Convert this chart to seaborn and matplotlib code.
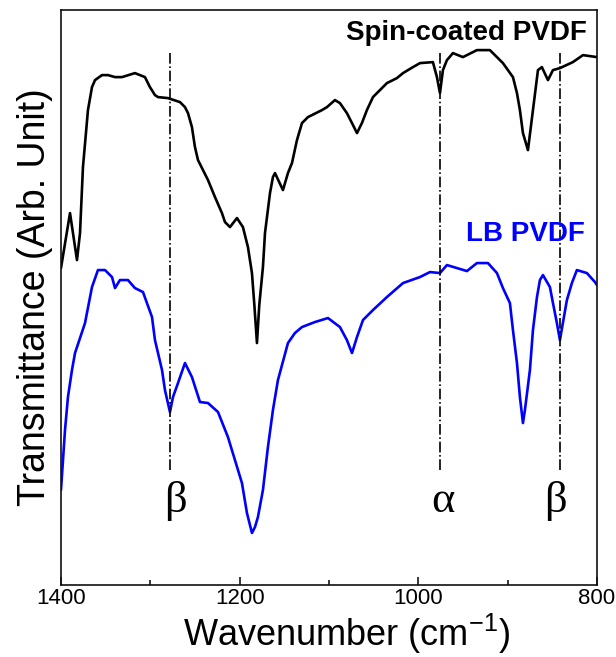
import numpy as np
import pandas as pd
import matplotlib
matplotlib.use("Agg")
import matplotlib.pyplot as plt
import seaborn as sns
from matplotlib.ticker import MultipleLocator

# ---- data ----
spin_wn = [1400, 1389.9, 1382.1, 1378.7, 1375.4, 1369.8, 1365.3, 1361.9, 1354.1, 1347.4,
           1339.5, 1331.7, 1317.2, 1306.0, 1300.4, 1294.8, 1291.4, 1280.2, 1266.8, 1261.2,
           1257.8, 1253.4, 1250.0, 1246.6, 1241.0, 1235.4, 1227.6, 1219.8, 1216.4, 1210.8,
           1203.0, 1196.3, 1190.7, 1186.2, 1183.5, 1180.6, 1178.0, 1173.9, 1171.6, 1166.0,
           1162.7, 1160.4, 1151.5, 1145.9, 1141.4, 1135.8, 1130.2, 1123.5, 1107.8, 1102.2,
           1093.3, 1087.7, 1079.9, 1074.2, 1068.6, 1063.1, 1057.5, 1050.7, 1035.1, 1023.9,
           1017.1, 1005.9, 998.1, 983.6, 979.1, 975.7, 972.4, 967.9, 961.2, 950.0,
           934.3, 919.8, 905.2, 894.0, 889.5, 886.2, 882.8, 877.2, 871.6, 866.0,
           861.6, 854.8, 849.2, 841.4, 826.9, 815.6, 800]
spin_t = [317, 372, 325, 352, 418, 475, 498, 505, 510, 510,
          508, 508, 512, 508, 498, 490, 488, 487, 483, 478,
          472, 458, 438, 425, 415, 405, 388, 372, 363, 358,
          367, 358, 338, 312, 280, 242, 280, 318, 352, 392,
          408, 412, 395, 412, 422, 445, 462, 468, 475, 478,
          485, 482, 472, 462, 452, 462, 475, 488, 502, 507,
          512, 518, 522, 523, 508, 492, 515, 525, 532, 528,
          535, 535, 522, 508, 492, 475, 452, 435, 475, 515,
          518, 505, 515, 517, 523, 530, 528]

lb_wn = [1400, 1395.5, 1392.2, 1387.7, 1384.3, 1373.1, 1365.3, 1358.6, 1350.7, 1342.9,
         1339.5, 1334.0, 1325.0, 1317.2, 1308.2, 1298.1, 1294.8, 1286.9, 1283.6, 1278.0,
         1274.6, 1269.0, 1261.2, 1253.4, 1244.4, 1235.4, 1224.2, 1213.1, 1197.4, 1191.8,
         1186.2, 1182.8, 1179.5, 1173.9, 1168.3, 1162.7, 1157.1, 1145.9, 1138.1, 1130.2,
         1115.7, 1101.1, 1087.7, 1079.9, 1074.2, 1068.6, 1061.9, 1050.7, 1035.1, 1017.1,
         998.1, 986.9, 975.7, 967.9, 956.7, 945.5, 934.3, 922.0, 911.9, 905.2,
         897.4, 894.0, 889.5, 886.2, 882.8, 880.6, 875.0, 871.6, 867.1, 863.8,
         860.4, 852.6, 849.2, 844.8, 841.4, 838.1, 833.6, 828.0, 822.4, 811.2,
         802.2, 800]
lb_t = [95, 155, 188, 215, 232, 262, 298, 315, 315, 308,
        297, 305, 305, 297, 293, 268, 245, 215, 195, 173,
        188, 202, 222, 208, 183, 182, 173, 148, 102, 72,
        52, 58, 68, 95, 138, 175, 205, 242, 252, 258,
        263, 267, 258, 245, 232, 248, 265, 275, 288, 302,
        308, 313, 312, 320, 317, 314, 322, 322, 312, 297,
        282, 255, 222, 188, 162, 175, 215, 255, 288, 305,
        310, 298, 282, 262, 245, 262, 285, 302, 315, 312,
        303, 300]

band_wn = [1278, 976, 841]
band_labels = ["β", "α", "β"]
band_label_wn = [1272, 972, 846]

df = pd.concat([
    pd.DataFrame({"wn": spin_wn, "T": spin_t, "film": "Spin-coated PVDF"}),
    pd.DataFrame({"wn": lb_wn, "T": lb_t, "film": "LB PVDF"}),
], ignore_index=True)

sns.set_style("ticks")
plt.rcParams["font.family"] = ["Liberation Sans", "DejaVu Sans"]
plt.rcParams["mathtext.default"] = "regular"
plt.rcParams["lines.solid_joinstyle"] = "round"
plt.rcParams["text.color"] = "black"
plt.rcParams["axes.labelcolor"] = "black"
plt.rcParams["xtick.color"] = "black"

fig = plt.figure(figsize=(6.16, 6.57), dpi=100)
ax = fig.add_axes([0.099, 0.1096, 0.87, 0.875])

sns.lineplot(data=df, x="wn", y="T", hue="film", sort=False, estimator=None,
             palette={"Spin-coated PVDF": "black", "LB PVDF": "#0000ff"},
             linewidth=1.9, legend=False, ax=ax)

for w in band_wn:
    ax.vlines(w, 115, 533, colors="black", linestyles="-.", linewidth=1.2)

for w, lab in zip(band_label_wn, band_labels):
    ax.text(w, 73, lab, ha="center", va="baseline", fontsize=32,
            family=["Liberation Serif", "DejaVu Serif"])

ax.text(811, 552, "Spin-coated PVDF", ha="right", va="center", fontsize=20,
        fontweight="bold", color="black")
ax.text(813, 351, "LB PVDF", ha="right", va="center", fontsize=20,
        fontweight="bold", color="#0000ff")

ax.set_xlim(1400, 800)
ax.set_ylim(0, 575)
ax.xaxis.set_major_locator(MultipleLocator(200))
ax.xaxis.set_minor_locator(MultipleLocator(100))
ax.tick_params(axis="x", which="major", direction="in", length=6, width=1.1,
               labelsize=16, pad=2.5, top=False, colors="black")
ax.tick_params(axis="x", which="minor", direction="in", length=3.5, width=1.1, top=False)
ax.set_yticks([])
for s in ax.spines.values():
    s.set_visible(True)
    s.set_linewidth(1.2)
    s.set_color("#111111")

ax.set_xlabel("Wavenumber (cm$^{-1}$)", fontsize=26)
ax.xaxis.set_label_coords(0.532, -0.046)
ax.set_ylabel("Transmittance (Arb. Unit)", fontsize=27, labelpad=6)

fig.savefig("out.png", dpi=100)
